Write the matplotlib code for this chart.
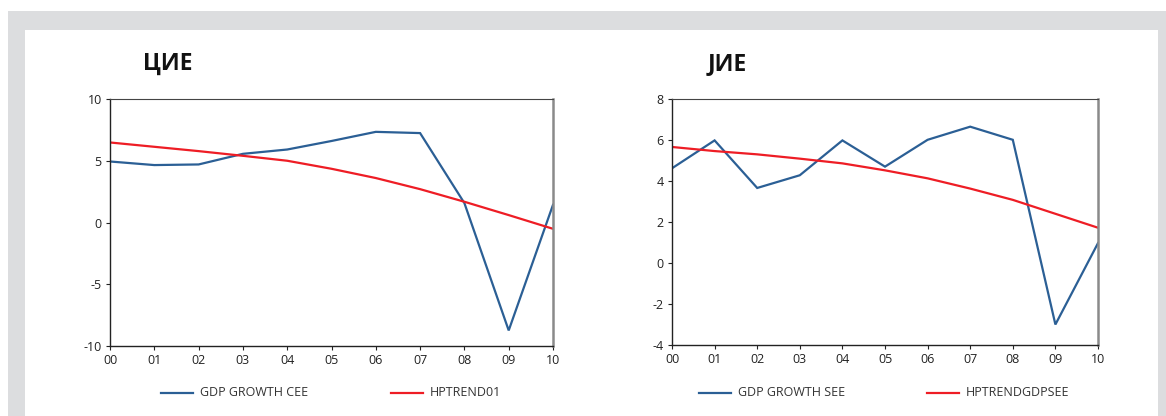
import matplotlib
matplotlib.use("Agg")
import matplotlib.pyplot as plt
from matplotlib.patches import Rectangle

years = ["00", "01", "02", "03", "04", "05", "06", "07", "08", "09", "10"]
gdp_cee = [4.94, 4.65, 4.7, 5.56, 5.91, 6.6, 7.34, 7.24, 1.57, -8.74, 1.43]
trend_cee = [6.48, 6.13, 5.78, 5.4, 5.0, 4.35, 3.6, 2.7, 1.68, 0.6, -0.51]
gdp_see = [4.62, 5.98, 3.66, 4.28, 5.98, 4.7, 6.01, 6.65, 6.01, -3.0, 0.97]
trend_see = [5.66, 5.46, 5.3, 5.09, 4.86, 4.52, 4.13, 3.63, 3.08, 2.4, 1.72]

BLUE = "#2b5f95"
RED = "#ee1d25"
W, H = 1166, 416

plt.rcParams['font.family'] = ['Open Sans', 'DejaVu Sans']
fig = plt.figure(figsize=(W / 100, H / 100), dpi=100)

def fx(px):
    return px / W

def fy(py):
    return 1 - py / H

# background frame
fig.patches.append(Rectangle((fx(8), 0), 1 - fx(8), fy(11), transform=fig.transFigure,
                             facecolor="#dcdddf", edgecolor="none", zorder=-10))
fig.patches.append(Rectangle((fx(25), 0), fx(1158) - fx(25), fy(30), transform=fig.transFigure,
                             facecolor="white", edgecolor="none", zorder=-9))

def make_axes(x0, x1, y0, y1):
    return fig.add_axes([fx(x0), fy(y1), fx(x1) - fx(x0), fy(y0) - fy(y1)])

panels = [
    dict(box=(110, 553, 99, 346), gdp=gdp_cee, trend=trend_cee, ylim=(-10, 10), yticks=[-10, -5, 0, 5, 10],
         title="ЦИЕ", tx=168, labels=("GDP GROWTH CEE", "HPTREND01"), lx=(161, 391)),
    dict(box=(672, 1098, 99, 345), gdp=gdp_see, trend=trend_see, ylim=(-4, 8), yticks=[-4, -2, 0, 2, 4, 6, 8],
         title="ЈИЕ", tx=727, labels=("GDP GROWTH SEE", "HPTRENDGDPSEE"), lx=(699, 927)),
]

for p in panels:
    ax = make_axes(*p["box"])
    x = list(range(len(years)))
    ax.plot(x, p["gdp"], color=BLUE, lw=1.6, solid_joinstyle="miter")
    ax.plot(x, p["trend"], color=RED, lw=1.6)
    ax.set_xlim(0, len(years) - 1)
    ax.set_ylim(*p["ylim"])
    ax.set_yticks(p["yticks"])
    ax.set_yticklabels([str(v) for v in p["yticks"]])
    ax.set_xticks(x)
    ax.set_xticklabels(years)
    ax.tick_params(axis="both", direction="out", length=3, width=0.8, labelsize=9,
                   colors="#222222", pad=3)
    for s in ["left", "bottom"]:
        ax.spines[s].set_color("#222222")
        ax.spines[s].set_linewidth(1.0)
    ax.spines["top"].set_color("#444444")
    ax.spines["top"].set_linewidth(0.8)
    ax.spines["right"].set_color("#8a8a8a")
    ax.spines["right"].set_linewidth(1.8)
    fig.text(fx(p["tx"]), fy(64), p["title"], ha="center", va="center", fontsize=16.5,
             fontweight="bold", color="#111111")
    # legend entries
    for (lab, col, lx) in zip(p["labels"], (BLUE, RED), p["lx"]):
        fig.lines.append(plt.Line2D([fx(lx), fx(lx + 32)], [fy(393), fy(393)], transform=fig.transFigure,
                                    color=col, lw=1.6))
        fig.text(fx(lx + 39), fy(393), lab, ha="left", va="center", fontsize=9, color="#333333")

fig.savefig("out.png", dpi=100)
